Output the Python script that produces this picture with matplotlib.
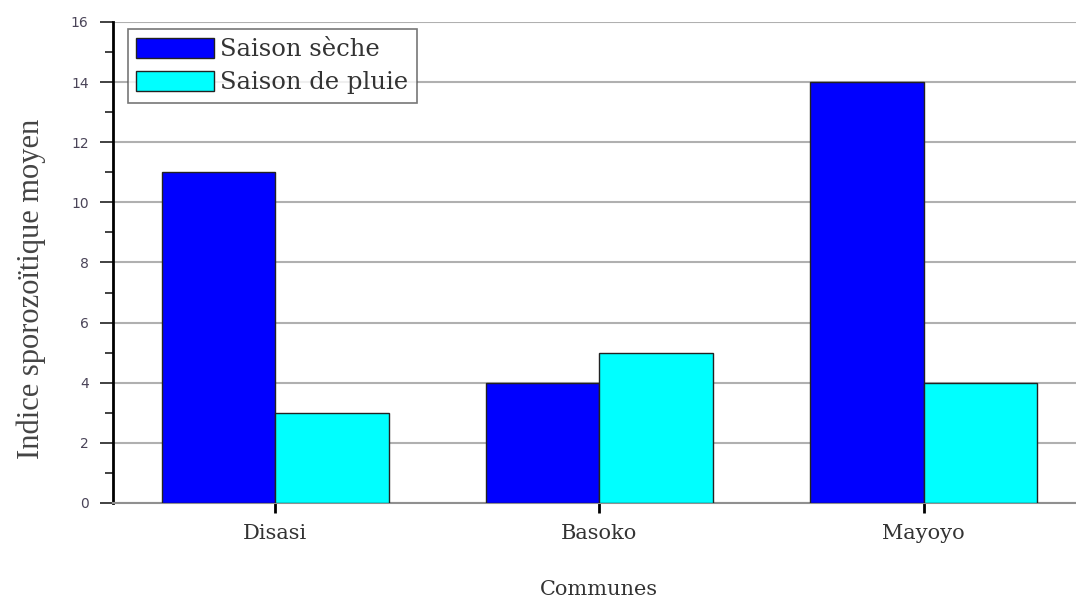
import numpy as np
import matplotlib.pyplot as plt
from matplotlib.ticker import MultipleLocator

communes = ['Disasi', 'Basoko', 'Mayoyo']
saison_seche = [11, 4, 14]
saison_pluie = [3, 5, 4]
series_labels = ['Saison sèche', 'Saison de pluie']

plt.rcParams['font.family'] = ['DejaVu Serif', 'Liberation Serif']

fig = plt.figure(figsize=(10.76, 6.02), dpi=100)
ax = fig.add_axes([0.105, 0.1645, 0.904, 0.799])

x = np.arange(len(communes))
w = 0.35
ax.bar(x - w / 2, saison_seche, w, color='#0000ff', edgecolor='#222222',
       linewidth=1, label=series_labels[0], zorder=3)
ax.bar(x + w / 2, saison_pluie, w, color='#00ffff', edgecolor='#222222',
       linewidth=1, label=series_labels[1], zorder=3)

ax.set_xlim(-0.5, 2.5)
ax.set_ylim(0, 16)
ax.yaxis.set_major_locator(MultipleLocator(2))
ax.yaxis.set_minor_locator(MultipleLocator(1))
ax.grid(axis='y', color='#b0b0b0', linewidth=1.5, zorder=0)
ax.set_axisbelow(True)

for s in ['top', 'right']:
    ax.spines[s].set_visible(False)
ax.spines['left'].set_linewidth(2)
ax.spines['left'].set_color('black')
ax.spines['bottom'].set_color('#909090')
ax.spines['bottom'].set_linewidth(1.5)

ax.set_xticks(x)
ax.set_xticklabels(communes, fontsize=15, color='#333333')
ax.tick_params(axis='x', length=7, width=2, color='black', pad=8)
ax.tick_params(axis='y', which='major', length=9.5, width=1.3,
               color='#333333', labelsize=10, labelcolor='#4a4458', pad=8)
ax.tick_params(axis='y', which='minor', length=6, width=1.3, color='#333333')
for lab in ax.get_yticklabels():
    lab.set_family('DejaVu Sans')

ax.set_ylabel('Indice sporozoïtique moyen', fontsize=22, color='#444444',
              family='Liberation Serif')
ax.yaxis.set_label_coords(-0.069, 0.445)
ax.set_xlabel('Communes', fontsize=15, color='#333333', labelpad=27)

leg = ax.legend(loc='upper left', bbox_to_anchor=(0.0154, 0.985),
                borderaxespad=0, fontsize=17.5, frameon=True, fancybox=False,
                handlelength=3.2, handleheight=0.9, borderpad=0.35,
                labelspacing=0.4, handletextpad=0.25)
leg.get_frame().set_edgecolor('#555555')
leg.get_frame().set_linewidth(1.2)
for t in leg.get_texts():
    t.set_color('#333333')

fig.savefig('out.png', dpi=100)
